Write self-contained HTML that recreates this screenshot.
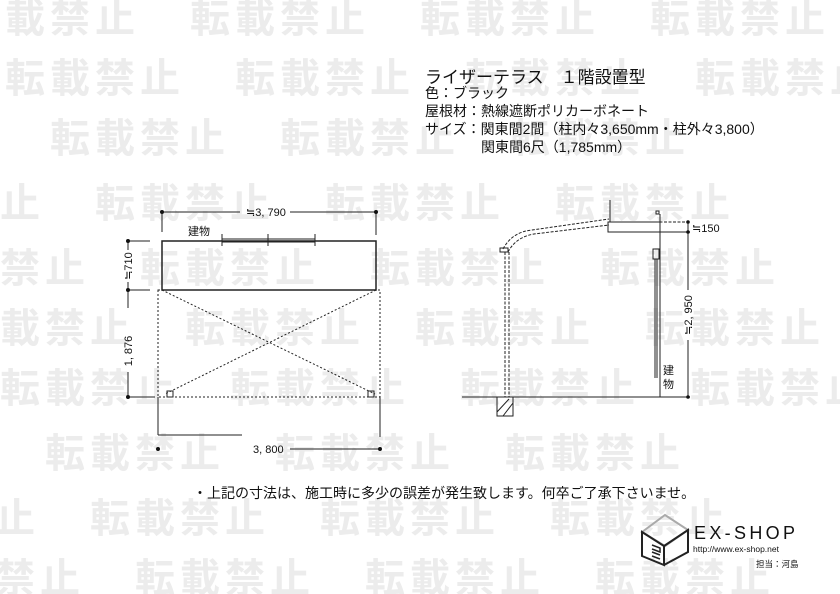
<!DOCTYPE html>
<html><head><meta charset="utf-8"><style>
html,body{margin:0;width:840px;height:594px;overflow:hidden;background:#fff}
#wrap{position:relative;width:840px;height:594px;overflow:hidden;font-family:"Liberation Sans","Noto Sans CJK JP",sans-serif}
.wm{position:absolute;left:0;white-space:nowrap;font:bold 40px "Noto Sans CJK JP",sans-serif;color:#ececec;letter-spacing:5px;line-height:40px}
.wm span{display:inline-block;width:230px}
.t{position:absolute;color:#111;white-space:nowrap}
svg{position:absolute;left:0;top:0}
</style></head><body><div id="wrap">
<div class="wm" style="top:-5px;margin-left:-40px"><span>転載禁止</span><span>転載禁止</span><span>転載禁止</span><span>転載禁止</span></div>
<div class="wm" style="top:55px;margin-left:5px"><span>転載禁止</span><span>転載禁止</span><span>転載禁止</span><span>転載禁止</span></div>
<div class="wm" style="top:115px;margin-left:50px"><span>転載禁止</span><span>転載禁止</span><span>転載禁止</span></div>
<div class="wm" style="top:180px;margin-left:-135px"><span>転載禁止</span><span>転載禁止</span><span>転載禁止</span><span>転載禁止</span></div>
<div class="wm" style="top:245px;margin-left:-90px"><span>転載禁止</span><span>転載禁止</span><span>転載禁止</span><span>転載禁止</span></div>
<div class="wm" style="top:305px;margin-left:-45px"><span>転載禁止</span><span>転載禁止</span><span>転載禁止</span><span>転載禁止</span></div>
<div class="wm" style="top:365px;margin-left:0px"><span>転載禁止</span><span>転載禁止</span><span>転載禁止</span><span>転載禁止</span></div>
<div class="wm" style="top:430px;margin-left:45px"><span>転載禁止</span><span>転載禁止</span><span>転載禁止</span></div>
<div class="wm" style="top:495px;margin-left:-140px"><span>転載禁止</span><span>転載禁止</span><span>転載禁止</span><span>転載禁止</span></div>
<div class="wm" style="top:555px;margin-left:-95px"><span>転載禁止</span><span>転載禁止</span><span>転載禁止</span><span>転載禁止</span></div>

<div class="t" style="left:425px;top:63px;font-size:17px">ライザーテラス　１階設置型</div>
<div class="t" style="left:425px;top:84px;font-size:14px;line-height:18px">色：ブラック<br>屋根材：熱線遮断ポリカーボネート<br>サイズ：関東間2間（柱内々3,650mm・柱外々3,800）<br>　　　　関東間6尺（1,785mm）</div>
<div class="t" style="left:193px;top:483px;font-size:14px">・上記の寸法は、施工時に多少の誤差が発生致します。何卒ご了承下さいませ。</div>

<svg width="840" height="594" font-family="Liberation Sans, Noto Sans CJK JP, sans-serif" fill="none" stroke="#222">
<g stroke-width="1">
<line x1="162" y1="212" x2="240" y2="212"/><line x1="290" y1="212" x2="376" y2="212"/>
<line x1="162" y1="212" x2="162" y2="232"/><line x1="376" y1="212" x2="376" y2="235"/>
<rect x="162" y="241" width="214" height="49" stroke-width="1.5"/>
<line x1="222" y1="239" x2="315" y2="239"/><line x1="222" y1="242" x2="315" y2="242"/>
<line x1="222" y1="234" x2="222" y2="246"/><line x1="268" y1="234" x2="268" y2="246"/><line x1="315" y1="234" x2="315" y2="246"/>
<g stroke-dasharray="2,2"><rect x="158" y="290" width="222" height="107"/>
<line x1="162" y1="290" x2="375" y2="394"/><line x1="376" y1="290" x2="165" y2="394"/></g>
<rect x="167" y="391" width="6" height="6"/><rect x="368" y="391" width="6" height="6"/>
<line x1="128" y1="241" x2="150" y2="241"/><line x1="128" y1="290" x2="150" y2="290"/><line x1="128" y1="397" x2="155" y2="397"/>
<line x1="128" y1="241" x2="128" y2="250"/><line x1="128" y1="282" x2="128" y2="308"/><line x1="128" y1="372" x2="128" y2="397"/>
<line x1="158" y1="397" x2="158" y2="435"/><line x1="158" y1="435" x2="242" y2="435"/>
<line x1="380" y1="397" x2="380" y2="437"/><line x1="290" y1="449" x2="380" y2="449"/>
</g>
<g fill="#111" stroke="none">
<circle cx="162" cy="212" r="2"/><circle cx="376" cy="212" r="2"/>
<circle cx="128" cy="241" r="2"/><circle cx="128" cy="290" r="2"/><circle cx="128" cy="397" r="2"/>
<circle cx="158" cy="449" r="2"/><circle cx="380" cy="449" r="2"/>
<text x="246" y="216" font-size="11">≒3, 790</text>
<text x="188" y="235" font-size="11">建物</text>
<text x="253" y="453" font-size="11">3, 800</text>
<text transform="translate(132,266) rotate(-90)" font-size="11" text-anchor="middle">≒710</text>
<text transform="translate(132,351) rotate(-90)" font-size="11" text-anchor="middle">1, 876</text>
</g>
<g stroke-width="1">
<line x1="462" y1="397" x2="680" y2="397"/>
<line x1="610" y1="200" x2="610" y2="222"/>
<rect x="608" y="222" width="52" height="10"/>
<line x1="660" y1="232" x2="660" y2="397"/>
<rect x="656" y="211" width="3" height="3"/>
<line x1="660" y1="214" x2="660" y2="222"/>
<g stroke-dasharray="3,1.5">
<path d="M503 249 Q512 232 532 230 L609 219"/>
<path d="M508 252 Q516 237 534 234 L609 225"/>
<line x1="505" y1="252" x2="505" y2="397"/><line x1="509" y1="252" x2="509" y2="397"/>
<line x1="610" y1="222" x2="688" y2="222"/>
</g>
<rect x="500" y="248" width="8" height="4"/>
<rect x="497" y="397" width="16" height="19"/><line x1="497" y1="412" x2="509" y2="399"/><line x1="503" y1="416" x2="513" y2="403"/>
<rect x="653" y="249" width="6" height="10"/>
<line x1="655" y1="259" x2="655" y2="378"/><line x1="657" y1="259" x2="657" y2="378"/>
<line x1="660" y1="232" x2="690" y2="232"/>
<line x1="688" y1="222" x2="688" y2="290"/><line x1="688" y1="340" x2="688" y2="397"/>
<line x1="680" y1="397" x2="690" y2="397"/>
</g>
<g fill="#111" stroke="none">
<circle cx="688" cy="222" r="1.8"/><circle cx="688" cy="232" r="1.8"/><circle cx="688" cy="397" r="1.8"/>
<text x="692" y="232" font-size="11">≒150</text>
<text transform="translate(692,315) rotate(-90)" font-size="11" text-anchor="middle">≒2, 950</text>
<text x="663" y="374" font-size="11">建</text><text x="663" y="388" font-size="11">物</text>
</g>
<g stroke-width="2">
<path d="M642 532 L665 515 L688 530 L665 546 Z" stroke="#aaa"/>
<path d="M642 532 L642 556 L664 565 L664 546 Z" stroke="#222"/>
<path d="M664 546 L688 530 L688 552 L664 565" stroke="#222"/>
<path d="M652 545 L660 548 L660 552 L652 549 M652 552 L660 555 M652 556 L660 559" stroke-width="1.5"/>
</g>
<g fill="#111" stroke="none">
<text x="694" y="539" font-size="18" letter-spacing="2" textLength="103">EX-SHOP</text>
<text x="693" y="552" font-size="8.5">http://www.ex-shop.net</text>
<text x="756" y="567" font-size="8.5">担当：河島</text>
</g>
</svg>
</div></body></html>
